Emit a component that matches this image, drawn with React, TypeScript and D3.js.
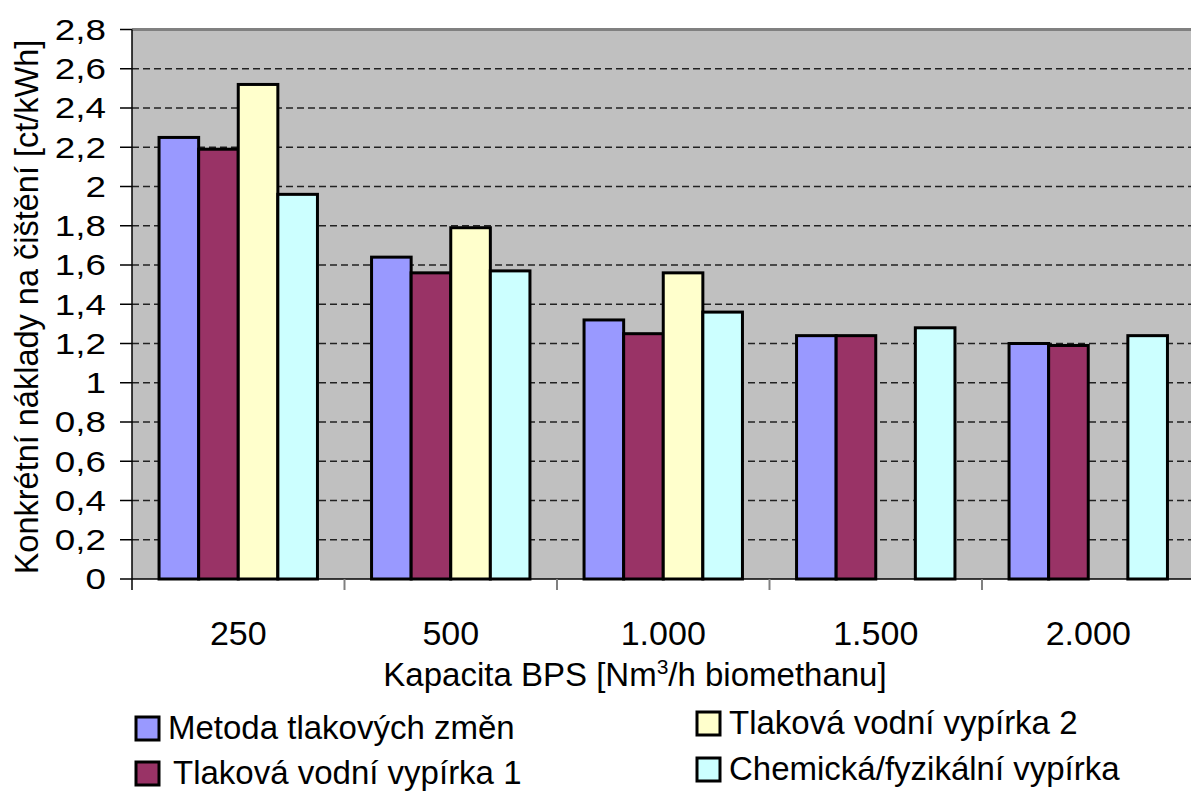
import React from "react";
import * as d3 from "d3";

const categories = ["250", "500", "1.000", "1.500", "2.000"];
const seriesNames = [
  "Metoda tlakových změn",
  "Tlaková vodní vypírka 1",
  "Tlaková vodní vypírka 2",
  "Chemická/fyzikální vypírka",
];
const metoda = [2.25, 1.64, 1.32, 1.24, 1.2];
const vodni1 = [2.19, 1.56, 1.25, 1.24, 1.19];
const vodni2: (number | null)[] = [2.52, 1.79, 1.56, null, null];
const chemicka = [1.96, 1.57, 1.36, 1.28, 1.24];
const yTicks = [0, 0.2, 0.4, 0.6, 0.8, 1, 1.2, 1.4, 1.6, 1.8, 2, 2.2, 2.4, 2.6, 2.8];
const colors = ["#9999FF", "#993366", "#FFFFCC", "#CCFFFF"];

const W = 1191;
const H = 791;
const FONT = "'Liberation Sans', Arial, sans-serif";

export default function App() {
  const seriesValues = [metoda, vodni1, vodni2, chemicka];
  const left = 132;
  const catW = 212.5;
  const x = d3.scaleBand<string>().domain(categories).range([left, left + catW * categories.length]);
  const xi = d3
    .scaleBand<string>()
    .domain(seriesNames)
    .range([0, x.bandwidth()])
    .paddingInner(0)
    .paddingOuter(0.683);
  const y = d3.scaleLinear().domain([0, 2.8]).range([579, 29.5]);
  const fmt = (v: number) => String(+v.toFixed(1)).replace(".", ",");

  const legend = [
    { name: seriesNames[0], color: colors[0], sx: 136, tx: 168, cy: 728 },
    { name: seriesNames[1], color: colors[1], sx: 136, tx: 173, cy: 773 },
    { name: seriesNames[2], color: colors[2], sx: 697, tx: 729, cy: 723 },
    { name: seriesNames[3], color: colors[3], sx: 697, tx: 729, cy: 769 },
  ];

  return (
    <svg
      width={W}
      height={H}
      style={{ position: "absolute", left: 0, top: 0, background: "#fff" }}
      fontFamily={FONT}
    >
      <rect x={0} y={0} width={W} height={H} fill="#fff" />
      {/* plot background */}
      <rect x={left} y={y(2.8)} width={W - left} height={y(0) - y(2.8)} fill="#C0C0C0" />
      {/* top border */}
      <line x1={left} x2={W} y1={y(2.8)} y2={y(2.8)} stroke="#808080" strokeWidth={3} />
      {/* gridlines */}
      {yTicks
        .filter((t) => t > 0 && t < 2.8)
        .map((t) => (
          <line
            key={"g" + t}
            x1={left}
            x2={W}
            y1={y(t)}
            y2={y(t)}
            stroke="#222"
            strokeWidth={1.5}
            strokeDasharray="7,4"
          />
        ))}
      {/* bars */}
      {categories.map((c, ci) =>
        seriesValues.map((vals, si) => {
          const v = vals[ci];
          if (v == null) return null;
          const bx = (x(c) as number) + (xi(seriesNames[si]) as number);
          return (
            <rect
              key={c + si}
              x={bx}
              y={y(v)}
              width={xi.bandwidth()}
              height={y(0) - y(v)}
              fill={colors[si]}
              stroke="#000"
              strokeWidth={3}
            />
          );
        })
      )}
      {/* y axis */}
      <line x1={left} x2={left} y1={y(2.8)} y2={y(0) + 11} stroke="#000" strokeWidth={1.5} />
      {yTicks.map((t) => (
        <g key={"t" + t}>
          <line x1={left - 12} x2={left} y1={y(t)} y2={y(t)} stroke="#000" strokeWidth={1.5} />
          <text
            transform={`translate(106,${y(t)}) scale(1.27,1)`}
            textAnchor="end"
            dy="0.36em"
            fontSize={29}
            fill="#000"
          >
            {fmt(t)}
          </text>
        </g>
      ))}
      {/* x axis */}
      <line x1={left} x2={W} y1={y(0)} y2={y(0)} stroke="#000" strokeWidth={1.5} />
      {categories.map((c, ci) =>
        ci > 0 ? (
          <line
            key={"xt" + c}
            x1={x(c) as number}
            x2={x(c) as number}
            y1={y(0)}
            y2={y(0) + 11}
            stroke="#808080"
            strokeWidth={2}
          />
        ) : null
      )}
      {categories.map((c) => (
        <text
          key={"xl" + c}
          x={(x(c) as number) + x.bandwidth() / 2}
          y={645}
          textAnchor="middle"
          fontSize={34}
          fill="#000"
        >
          {c}
        </text>
      ))}
      {/* axis titles */}
      <text x={635} y={686} textAnchor="middle" fontSize={33} fill="#000">
        Kapacita BPS [Nm
        <tspan fontSize={21} dy={-12}>
          3
        </tspan>
        <tspan dy={12}>/h biomethanu]</tspan>
      </text>
      <text
        transform="translate(27,307) rotate(-90)"
        textAnchor="middle"
        dy="0.35em"
        fontSize={32.5}
        fill="#000"
      >
        Konkrétní náklady na čištění [ct/kWh]
      </text>
      {/* legend */}
      {legend.map((l) => (
        <g key={l.name}>
          <rect
            x={l.sx}
            y={l.cy - 11}
            width={23}
            height={23}
            fill={l.color}
            stroke="#000"
            strokeWidth={3}
          />
          <text x={l.tx} y={l.cy + 11} fontSize={33} fill="#000">
            {l.name}
          </text>
        </g>
      ))}
    </svg>
  );
}
